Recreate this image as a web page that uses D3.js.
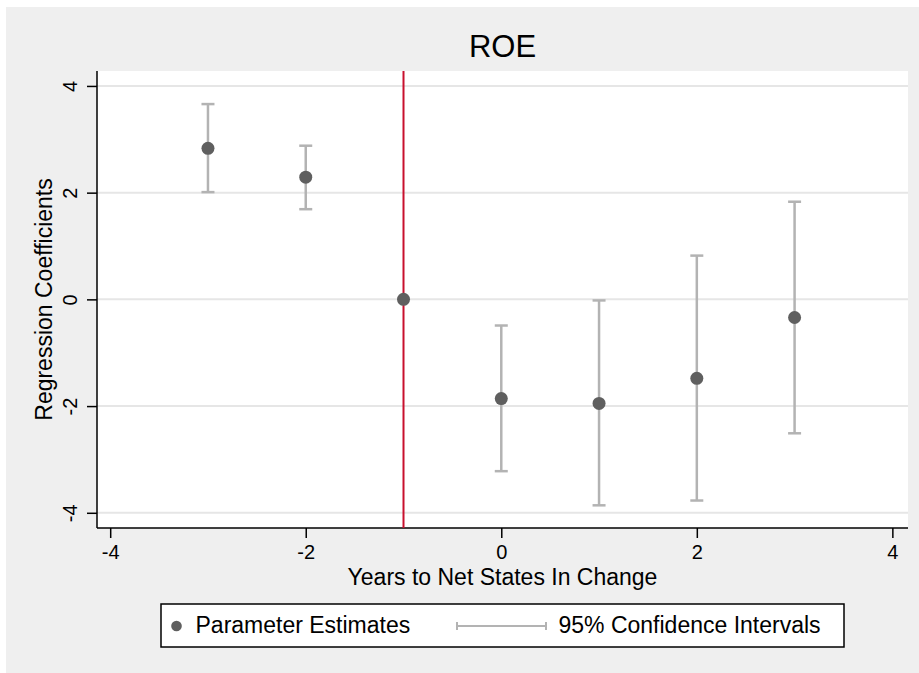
<!DOCTYPE html>
<html>
<head>
<meta charset="utf-8">
<script src="https://cdn.jsdelivr.net/npm/d3@7"></script>
<style>
  body { margin: 0; background: #fff; }
  text { font-family: Arial, "Liberation Sans", sans-serif; fill: #000; }
</style>
</head>
<body>
<div id="root"></div>
<script>
// event study coefficients
var years = [-3, -2, -1, 0, 1, 2, 3];
var estimates = [2.83, 2.29, 0, -1.86, -1.95, -1.48, -0.34];
var ciLow = [2.01, 1.69, null, -3.22, -3.86, -3.77, -2.51];
var ciHigh = [3.66, 2.88, null, -0.49, -0.02, 0.82, 1.83];
var xTicks = [-4, -2, 0, 2, 4];
var yTicks = [-4, -2, 0, 2, 4];
var eventYear = -1;

var width = 919, height = 673;
var plot = {left: 97, top: 71, right: 908, bottom: 528};

var svg = d3.select("#root").append("svg")
  .attr("width", width)
  .attr("height", height);

// grey graph region
svg.append("rect")
  .attr("x", 6).attr("y", 7)
  .attr("width", width - 6).attr("height", height - 7)
  .attr("fill", "#efefef");

svg.append("rect")
  .attr("x", plot.left).attr("y", plot.top)
  .attr("width", plot.right - plot.left)
  .attr("height", plot.bottom - plot.top)
  .attr("fill", "#fff");

var x = d3.scaleLinear()
  .domain([-4.135, 4.16])
  .range([plot.left, plot.right]);

var y = d3.scaleLinear()
  .domain([-4.285, 4.28])
  .range([plot.bottom, plot.top]);

// plain hyphen minus like stata
var fmt = function(d) { return String(d); };

// gridlines
svg.append("g").selectAll("line")
  .data(yTicks)
  .enter().append("line")
  .attr("x1", plot.left).attr("x2", plot.right)
  .attr("y1", function(d) { return y(d); })
  .attr("y2", function(d) { return y(d); })
  .attr("stroke", "#e6e6e6")
  .attr("stroke-width", 2);

// axes
var yAxis = svg.append("g")
  .attr("transform", "translate(" + plot.left + ",0)")
  .call(d3.axisLeft(y).tickValues(yTicks).tickSize(10).tickSizeOuter(0).tickFormat(fmt));
yAxis.select(".domain").attr("d", "M0," + plot.top + "V" + plot.bottom);
yAxis.selectAll(".tick text")
  .attr("x", 0).attr("y", 0).attr("dy", 0)
  .attr("transform", "translate(-20,0) rotate(-90)")
  .attr("text-anchor", "middle")
  .style("font-size", "20px");

var xAxis = svg.append("g")
  .attr("transform", "translate(0," + plot.bottom + ")")
  .call(d3.axisBottom(x).tickValues(xTicks).tickSize(10).tickSizeOuter(0).tickFormat(fmt));
xAxis.select(".domain").attr("d", "M" + plot.left + ",0H" + plot.right);
xAxis.selectAll(".tick text")
  .attr("y", 31).attr("dy", 0)
  .style("font-size", "20px");

svg.selectAll(".domain, .tick line")
  .attr("stroke", "#000")
  .attr("stroke-width", 1.5);
svg.selectAll(".tick text").style("font-family", "Arial, 'Liberation Sans', sans-serif").attr("fill", "#000");

// event line
svg.append("line")
  .attr("x1", x(eventYear)).attr("x2", x(eventYear))
  .attr("y1", plot.top).attr("y2", plot.bottom)
  .attr("stroke", "#c8102e")
  .attr("stroke-width", 2);

// confidence intervals
var ciColor = "#b3b3b3", capW = 6.5;
var ci = svg.append("g")
  .selectAll("g")
  .data(years.map(function(d, i) { return {yr: d, lo: ciLow[i], hi: ciHigh[i]}; })
    .filter(function(d) { return d.lo != null; }))
  .enter().append("g")
  .attr("stroke", ciColor)
  .attr("stroke-width", 2.5);
ci.append("line")
  .attr("x1", function(d) { return x(d.yr); })
  .attr("x2", function(d) { return x(d.yr); })
  .attr("y1", function(d) { return y(d.lo); })
  .attr("y2", function(d) { return y(d.hi); });
ci.append("line")
  .attr("x1", function(d) { return x(d.yr) - capW; })
  .attr("x2", function(d) { return x(d.yr) + capW; })
  .attr("y1", function(d) { return y(d.lo); })
  .attr("y2", function(d) { return y(d.lo); });
ci.append("line")
  .attr("x1", function(d) { return x(d.yr) - capW; })
  .attr("x2", function(d) { return x(d.yr) + capW; })
  .attr("y1", function(d) { return y(d.hi); })
  .attr("y2", function(d) { return y(d.hi); });

// point estimates
svg.append("g").selectAll("circle")
  .data(estimates)
  .enter().append("circle")
  .attr("cx", function(d, i) { return x(years[i]); })
  .attr("cy", function(d) { return y(d); })
  .attr("r", 6.5)
  .attr("fill", "#5f5f5f");

// titles
var midX = (plot.left + plot.right) / 2;
svg.append("text")
  .attr("x", midX).attr("y", 57)
  .attr("text-anchor", "middle")
  .style("font-size", "31px")
  .text("ROE");

svg.append("text")
  .attr("x", midX).attr("y", 585)
  .attr("text-anchor", "middle")
  .style("font-size", "23px")
  .text("Years to Net States In Change");

svg.append("text")
  .attr("transform", "translate(52," + ((plot.top + plot.bottom) / 2) + ") rotate(-90)")
  .attr("text-anchor", "middle")
  .style("font-size", "23px")
  .text("Regression Coefficients");

// legend
var leg = svg.append("g");
leg.append("rect")
  .attr("x", 161).attr("y", 604)
  .attr("width", 683).attr("height", 43)
  .attr("fill", "#fff")
  .attr("stroke", "#000")
  .attr("stroke-width", 1.5);
leg.append("circle")
  .attr("cx", 176.5).attr("cy", 626)
  .attr("r", 5.3)
  .attr("fill", "#5f5f5f");
leg.append("text")
  .attr("x", 195.5).attr("y", 633)
  .style("font-size", "23px")
  .text("Parameter Estimates");
var legCi = leg.append("g").attr("stroke", ciColor).attr("stroke-width", 2);
legCi.append("line").attr("x1", 457).attr("x2", 546).attr("y1", 626).attr("y2", 626);
legCi.append("line").attr("x1", 457).attr("x2", 457).attr("y1", 622).attr("y2", 630);
legCi.append("line").attr("x1", 546).attr("x2", 546).attr("y1", 622).attr("y2", 630);
leg.append("text")
  .attr("x", 558.5).attr("y", 633)
  .style("font-size", "23px")
  .text("95% Confidence Intervals");
</script>
</body>
</html>
